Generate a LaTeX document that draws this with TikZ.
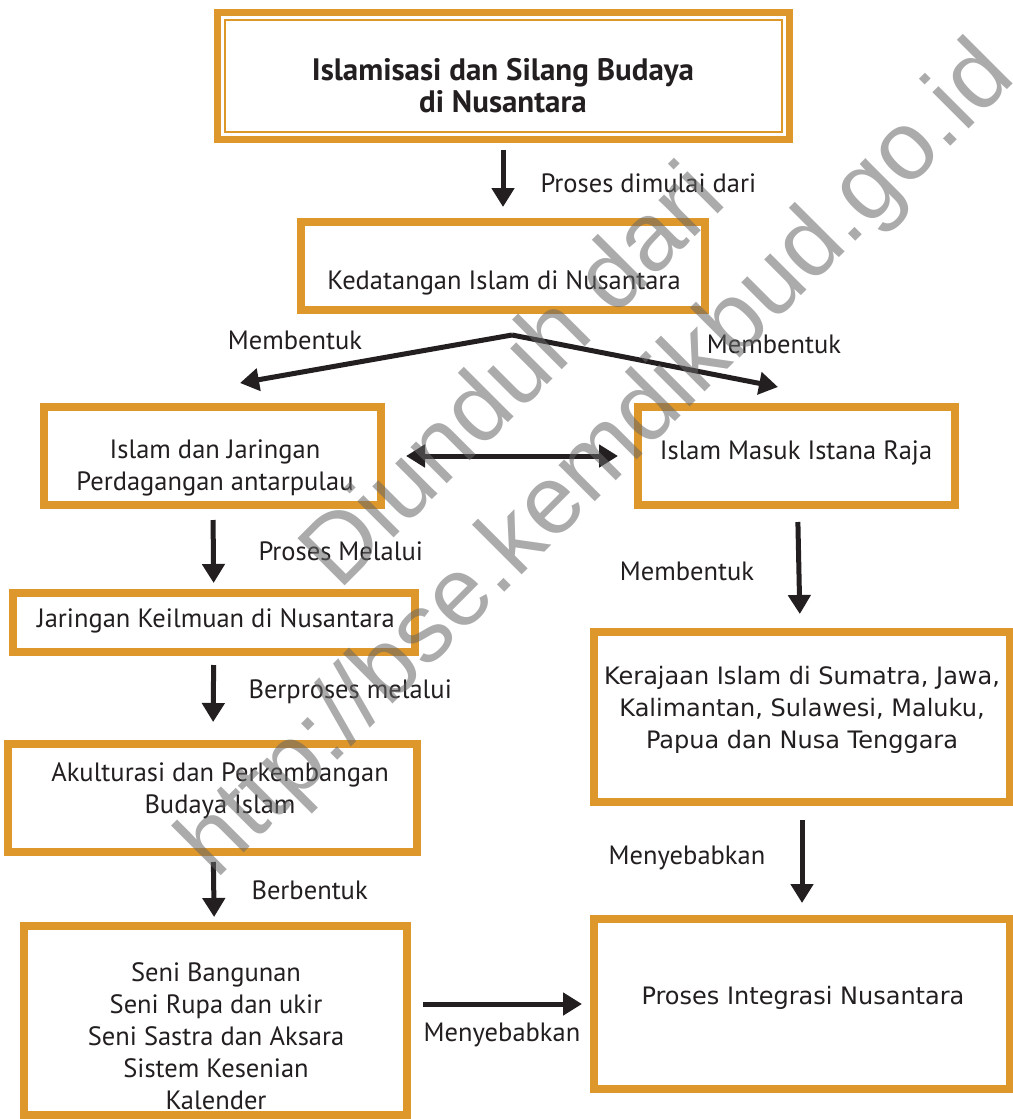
\documentclass[tikz,border=0pt]{standalone}
\usepackage{fontspec}
\setmainfont{PT Sans}
\newfontfamily\kerfont{DejaVu Sans}
\newfontfamily\wmfont{Liberation Sans}
\usetikzlibrary{arrows.meta,fit,calc}
\definecolor{myorange}{RGB}{221,151,42}
\definecolor{myblack}{RGB}{35,31,32}

\begin{document}
\begin{tikzpicture}[x=1pt,y=-1pt,
    every node/.style={text=myblack},
    box/.style={draw=myorange,line width=8pt,inner sep=0pt},
    txt/.style={align=center,font=\fontsize{26.5}{32}\selectfont},
    ktxt/.style={align=center,font=\kerfont\fontsize{24}{32}\selectfont},
    lbl/.style={anchor=west,font=\fontsize{26.5}{32}\selectfont},
    arr/.style={-{Triangle[width=22pt,length=19pt]},line width=5pt,draw=myblack},
    darr/.style={{Triangle[width=22pt,length=19pt]}-{Triangle[width=22pt,length=19pt]},line width=5pt,draw=myblack}
  ]
  \useasboundingbox[fill=white] (0,0) rectangle (1012,1119);

  % the boxes
  \node[box,line width=7pt,fit={(217,12) (789,139)}] (title) {};
  \draw[myorange,line width=2pt] ([shift={(11pt,-11pt)}]title.north west) rectangle ([shift={(-11pt,11pt)}]title.south east);
  \node[box,fit={(301,222) (705,310)}] (kedatangan) {};
  \node[box,fit={(44,407) (381,505)}] (jaringan) {};
  \node[box,fit={(638,407) (955,505)}] (istana) {};
  \node[box,fit={(13,593) (415,652)}] (keilmuan) {};
  \node[box,fit={(8,744) (417,852)}] (akulturasi) {};
  \node[box,fit={(24,926) (407,1115)}] (seni) {};
  \node[box,fit={(594,632) (1010,802)}] (kerajaan) {};
  \node[box,fit={(594,919) (1010,1089)}] (integrasi) {};

  % the texts in the boxes
  \node[txt,font=\bfseries\fontsize{31}{32}\selectfont] (titleT) at (503,86) {Islamisasi dan Silang Budaya\\di Nusantara};
  \node[txt] (kedatanganT) at (504,283) {Kedatangan Islam di Nusantara};
  \node[txt] (jaringanT) at (215,468) {Islam dan Jaringan\\Perdagangan antarpulau};
  \node[txt] (istanaT) at (796,453) {Islam Masuk Istana Raja};
  \node[txt] (keilmuanT) at (216,621) {Jaringan Keilmuan di Nusantara};
  \node[txt] (akulturasiT) at (220,791) {Akulturasi dan Perkembangan\\Budaya Islam};
  \node[txt] (seniT) at (216,1036) {Seni Bangunan\\Seni Rupa dan ukir\\Seni Sastra dan Aksara\\Sistem Kesenian\\Kalender};
  \node[ktxt] (kerajaanT) at (802,710) {Kerajaan Islam di Sumatra, Jawa,\\Kalimantan, Sulawesi, Maluku,\\Papua dan Nusa Tenggara};
  \node[ktxt] (integrasiT) at (803,998) {Proses Integrasi Nusantara};

  % the edges
  \coordinate (split) at (512,335);
  \coordinate (tipL) at (240,383);
  \coordinate (tipR) at (778,387);
  \draw[arr,shorten <=7pt,shorten >=11pt] (title) -- (kedatangan);
  \draw[arr] (split) -- (tipL);
  \draw[arr] (split) -- (tipR);
  \draw[darr,shorten <=21pt,shorten >=16pt] (jaringan) -- (istana);
  \draw[arr,shorten <=11pt,shorten >=6pt] (jaringan) -- (keilmuan);
  \draw[arr,shorten <=9pt,shorten >=18pt] (keilmuan) -- (akulturasi);
  \draw[arr,shorten <=6pt,shorten >=5pt] (akulturasi) -- (seni);
  \draw[arr,shorten <=13pt,shorten >=14pt] (istana) -- (kerajaan);
  \draw[arr,shorten <=14pt,shorten >=12pt] (kerajaan) -- (integrasi);
  \draw[arr,shorten <=12pt,shorten >=8pt] (integrasi.west -| seni.east) -- (integrasi.west);

  % the edge labels
  \node[lbl] (lblStart) at (537,183) {Proses dimulai dari};
  \node[lbl,anchor=center] (lblFormL) at (295,340) {Membentuk};
  \node[lbl,anchor=center] (lblFormR) at (774,344) {Membentuk};
  \node[lbl] (lblVia) at (255,551) {Proses Melalui};
  \node[lbl] (lblViaB) at (245,692) {Berproses melalui};
  \node[lbl] (lblShape) at (248,890) {Berbentuk};
  \node[lbl,anchor=center] (lblFormK) at (687,571) {Membentuk};
  \node[lbl,anchor=center] (lblCauseR) at (687,858) {Menyebabkan};
  \node[lbl,anchor=center] (lblCauseB) at (502,1035) {Menyebabkan};

  % the watermark
  \node[align=center,text=black!60,opacity=0.55,rotate=45,font=\wmfont\fontsize{97}{117}\selectfont] (mark) at (558,421) {Diunduh dari\\http://bse.kemdikbud.go.id};
\end{tikzpicture}
\end{document}
